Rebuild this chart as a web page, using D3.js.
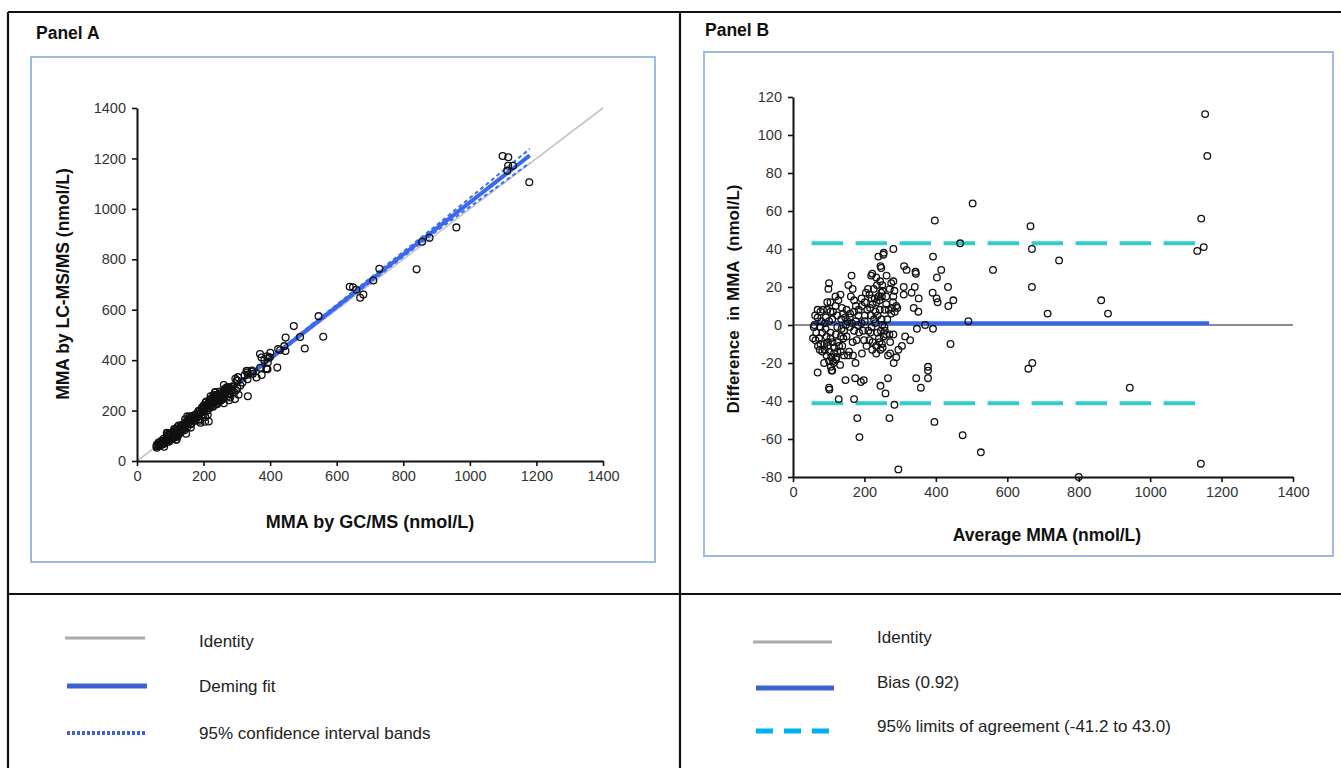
<!DOCTYPE html>
<html>
<head>
<meta charset="utf-8">
<script src="https://cdn.jsdelivr.net/npm/d3@7"></script>
<style>
  body { margin: 0; background: #fff; }
  svg { font-family: "Liberation Sans", Arial, sans-serif; }
</style>
</head>
<body>
<script>
//
// DATA
//

// Bland-Altman values: average and difference (LC-MS/MS minus GC/MS), nmol/L
var avgMMA = [503,397,468,560,491,392,415,403,434,391,402,405,449,435,392,370,347,352,341,343,344,318,311,332,338,351,310,284,310,441,
  314,328,305,295,289,282,272,266,272,270,281,345,358,378,378,378,396,475,526,295,284,270,259,266,245,180,186,171,174,190,
  198,147,128,101,102,69,87,106,110,175,154,168,193,206,222,233,245,249,254,199,211,196,
  281,254,253,239,245,247,222,219,233,262,164,244,281,250,235,210,226,204,192,162,167,155,101,99,119,133,127,119,96,105,
  84,69,62,69,171,176,160,146,183,201,208,216,223,242,261,280,285,289,292,271,275,257,248,230,256,220,217,182,165,152,
  135,124,112,92,79,60,58,65,56,73,77,75,89,103,107,112,122,132,114,108,88,98,111,124,134,138,141,150,134,120,
  105,91,77,124,143,148,159,171,185,178,167,157,143,214,223,233,242,251,241,236,246,257,261,250,237,243,231,218,227,201,
  192,176,159,264,275,268,277,281,261,249,247,251,240,234,229,220,214,201,193,184,171,150,137,140,110,101,89,77,96,105,
  82,94,105,115,124,98,82,70,63,115,120,101,94,129,136,
  1154,1160,1143,665,669,1150,1132,745,669,863,882,713,670,659,943,1142,800];
var diffMMA = [64,55,43,29,2,36,29,25,20,17,14,12,13,10,-2,0,-2,14,20,28,27,29,31,17,9,7,20,18,16,-10,
  -6,-8,-11,-13,-17,-20,-15,-16,-9,-5,-5,-28,-33,-22,-24,-28,-51,-58,-67,-76,-42,-49,-36,-28,-32,-49,-59,-39,-28,-30,
  -29,-29,-39,-33,-34,-25,-20,-22,-24,-20,-16,-16,-15,-11,-13,-15,-13,-10,-6,-8,-3,-3,
  40,38,37,36,31,30,27,26,25,26,26,23,23,21,21,19,19,17,14,15,19,21,22,19,15,16,13,10,12,12,
  8,8,5,4,13,10,6,4,5,5,8,9,11,13,11,12,7,10,9,19,22,8,3,1,-1,-1,-4,0,1,2,
  3,5,7,4,2,0,-1,-4,-7,-7,-10,-13,-13,-14,-17,-19,-17,-21,-20,-24,-10,-9,-9,-9,-14,-11,-7,-6,-6,-5,
  -4,-2,-1,-1,-3,0,-1,-3,-4,-8,-9,-14,-16,-8,-9,-11,-9,-12,-7,-4,-3,-3,-5,0,5,8,7,5,3,2,
  1,2,4,3,6,8,9,15,15,15,17,18,15,12,14,14,16,12,10,8,7,8,9,6,3,2,1,7,8,7,
  -4,-6,-7,-12,-14,-11,-14,-11,-8,-15,-18,-19,-16,-11,-2,
  111,89,56,52,40,41,39,34,20,13,6,6,-20,-23,-33,-73,-80];

// Deming fit and its 95% confidence bands (Panel A)
var fitX = [60, 1180];
var fitY = [54, 1212];
var ciX = [60, 300, 600, 900, 1180];
var ciUpper = [58, 306, 620, 935, 1238];
var ciLower = [50, 299, 606, 912, 1182];

// Bland-Altman summary (Panel B)
var bias = 0.92;
var loaLower = -41.2;
var loaUpper = 43.0;
var biasRange = [55, 1165];
var loaRange = [52, 1132];

var ticksA = [0, 200, 400, 600, 800, 1000, 1200, 1400];
var ticksBx = [0, 200, 400, 600, 800, 1000, 1200, 1400];
var ticksBy = [-80, -60, -40, -20, 0, 20, 40, 60, 80, 100, 120];

// Panel A points: GC/MS = avg - diff/2, LC-MS/MS = avg + diff/2
var pairs = avgMMA.map(function(a, i){
  return {avg: a, diff: diffMMA[i], gc: a - diffMMA[i] / 2, lc: a + diffMMA[i] / 2};
});

//
// CANVAS
//
var svg = d3.select("body").append("svg")
  .attr("width", 1341)
  .attr("height", 768);

// outer frame
var frameLines = [
  [8, 12, 1341, 12], [8, 12, 8, 768], [680, 12, 680, 768], [8, 594, 1341, 594]
];
svg.selectAll("line.frame").data(frameLines).enter().append("line")
  .attr("class", "frame")
  .attr("x1", function(d){ return d[0]; }).attr("y1", function(d){ return d[1]; })
  .attr("x2", function(d){ return d[2]; }).attr("y2", function(d){ return d[3]; })
  .attr("stroke", "#111").attr("stroke-width", 2.2);

// light blue plot boxes
svg.append("rect").attr("x", 31).attr("y", 57).attr("width", 624).attr("height", 505)
  .attr("fill", "none").attr("stroke", "#9fbbe2").attr("stroke-width", 2);
svg.append("rect").attr("x", 704).attr("y", 52).attr("width", 629).attr("height", 504)
  .attr("fill", "none").attr("stroke", "#9fbbe2").attr("stroke-width", 2);

svg.append("text").attr("x", 36).attr("y", 39).text("Panel A")
  .attr("font-weight", "bold").attr("font-size", 17.5).attr("fill", "#111");
svg.append("text").attr("x", 705).attr("y", 36).text("Panel B")
  .attr("font-weight", "bold").attr("font-size", 17.5).attr("fill", "#111");

// plain integer labels, hyphen minus as in the original
var fmt = function(d){ return String(d); };

function styleAxis(g){
  g.select(".domain").attr("stroke", "#111").attr("stroke-width", 2);
  g.selectAll(".tick line").attr("stroke", "#111").attr("stroke-width", 1.6);
  g.selectAll(".tick text").attr("font-size", 14.5).attr("fill", "#333")
    .attr("font-family", "Liberation Sans, Arial, sans-serif");
}

//
// PANEL A
//
var xA = d3.scaleLinear().domain([0, 1400]).range([137, 603]);
var yA = d3.scaleLinear().domain([0, 1400]).range([461, 108]);

// identity
svg.append("line")
  .attr("x1", xA(0)).attr("y1", yA(0)).attr("x2", xA(1400)).attr("y2", yA(1400))
  .attr("stroke", "#c4c4c4").attr("stroke-width", 1.6);

var lineA = d3.line().x(function(d){ return xA(d[0]); }).y(function(d){ return yA(d[1]); });

svg.append("path").datum(ciX.map(function(x, i){ return [x, ciUpper[i]]; }))
  .attr("d", lineA).attr("fill", "none").attr("stroke", "#3d6ef0")
  .attr("stroke-width", 2).attr("stroke-dasharray", "4,3");
svg.append("path").datum(ciX.map(function(x, i){ return [x, ciLower[i]]; }))
  .attr("d", lineA).attr("fill", "none").attr("stroke", "#3d6ef0")
  .attr("stroke-width", 2).attr("stroke-dasharray", "4,3");
svg.append("path").datum(fitX.map(function(x, i){ return [x, fitY[i]]; }))
  .attr("d", lineA).attr("fill", "none").attr("stroke", "#3b68ee").attr("stroke-width", 4);

svg.append("g").selectAll("circle").data(pairs).enter().append("circle")
  .attr("cx", function(d){ return xA(d.gc); })
  .attr("cy", function(d){ return yA(d.lc); })
  .attr("r", 3.4)
  .attr("fill", "none").attr("stroke", "#111").attr("stroke-width", 1.3);

svg.append("g").attr("transform", "translate(0," + yA(0) + ")")
  .call(d3.axisBottom(xA).tickValues(ticksA).tickFormat(fmt).tickSize(5).tickSizeOuter(0).tickPadding(5))
  .call(styleAxis);
svg.append("g").attr("transform", "translate(" + xA(0) + ",0)")
  .call(d3.axisLeft(yA).tickValues(ticksA).tickFormat(fmt).tickSize(5).tickSizeOuter(0).tickPadding(6))
  .call(styleAxis);

svg.append("text").attr("x", 370).attr("y", 528).attr("text-anchor", "middle")
  .attr("font-weight", "bold").attr("font-size", 18).attr("fill", "#111")
  .text("MMA by GC/MS (nmol/L)");
svg.append("text").attr("transform", "translate(69,284) rotate(-90)")
  .attr("text-anchor", "middle")
  .attr("font-weight", "bold").attr("font-size", 17.5).attr("fill", "#111")
  .text("MMA by LC-MS/MS (nmol/L)");

//
// PANEL B
//
var xB = d3.scaleLinear().domain([0, 1400]).range([793, 1293]);
var yB = d3.scaleLinear().domain([-80, 120]).range([477, 97]);

svg.append("line")
  .attr("x1", xB(0)).attr("y1", yB(0)).attr("x2", xB(1400)).attr("y2", yB(0))
  .attr("stroke", "#8c8c8c").attr("stroke-width", 2);
svg.append("line")
  .attr("x1", xB(biasRange[0])).attr("y1", yB(bias)).attr("x2", xB(biasRange[1])).attr("y2", yB(bias))
  .attr("stroke", "#3366ee").attr("stroke-width", 4);
[loaLower, loaUpper].forEach(function(v){
  svg.append("line")
    .attr("x1", xB(loaRange[0])).attr("y1", yB(v)).attr("x2", xB(loaRange[1])).attr("y2", yB(v))
    .attr("stroke", "#33cccc").attr("stroke-width", 4).attr("stroke-dasharray", "31.5,12.5");
});

svg.append("g").selectAll("circle").data(pairs).enter().append("circle")
  .attr("cx", function(d){ return xB(d.avg); })
  .attr("cy", function(d){ return yB(d.diff); })
  .attr("r", 3.3)
  .attr("fill", "none").attr("stroke", "#111").attr("stroke-width", 1.3);

svg.append("g").attr("transform", "translate(0," + yB(-80) + ")")
  .call(d3.axisBottom(xB).tickValues(ticksBx).tickFormat(fmt).tickSize(5).tickSizeOuter(0).tickPadding(5))
  .call(styleAxis);
svg.append("g").attr("transform", "translate(" + xB(0) + ",0)")
  .call(d3.axisLeft(yB).tickValues(ticksBy).tickFormat(fmt).tickSize(5).tickSizeOuter(0).tickPadding(6))
  .call(styleAxis);

svg.append("text").attr("x", 1047).attr("y", 541).attr("text-anchor", "middle")
  .attr("font-weight", "bold").attr("font-size", 17.5).attr("fill", "#111")
  .text("Average MMA (nmol/L)");
svg.append("text").attr("transform", "translate(739,299) rotate(-90)")
  .attr("text-anchor", "middle").style("white-space", "pre")
  .attr("font-weight", "bold").attr("font-size", 17).attr("fill", "#111")
  .text("Difference  in MMA  (nmol/L)");

//
// LEGENDS
//
var legendA = [
  {label: "Identity", x1: 65, x2: 145, y: 638, ty: 641, color: "#aaaaaa", w: 3, dash: null},
  {label: "Deming fit", x1: 67, x2: 147, y: 686, ty: 686, color: "#3a62d6", w: 5, dash: null},
  {label: "95% confidence interval bands", x1: 67, x2: 146, y: 733, ty: 733, color: "#3a62d6", w: 4, dash: "3,2"}
];
var legendB = [
  {label: "Identity", x1: 753, x2: 832, y: 642, ty: 637, color: "#aaaaaa", w: 3, dash: null},
  {label: "Bias (0.92)", x1: 756, x2: 834, y: 688, ty: 682, color: "#3a62d6", w: 5, dash: null},
  {label: "95% limits of agreement (-41.2 to 43.0)", x1: 756, x2: 831, y: 731, ty: 726, color: "#00b0f0", w: 5, dash: "17,11"}
];

function drawLegend(items, tx){
  var g = svg.append("g");
  items.forEach(function(d){
    g.append("line").attr("x1", d.x1).attr("x2", d.x2).attr("y1", d.y).attr("y2", d.y)
      .attr("stroke", d.color).attr("stroke-width", d.w)
      .attr("stroke-dasharray", d.dash);
    g.append("text").attr("x", tx).attr("y", d.ty).attr("dy", "0.35em")
      .attr("font-size", 17).attr("fill", "#222").text(d.label);
  });
}
drawLegend(legendA, 199);
drawLegend(legendB, 877);
</script>
</body>
</html>
